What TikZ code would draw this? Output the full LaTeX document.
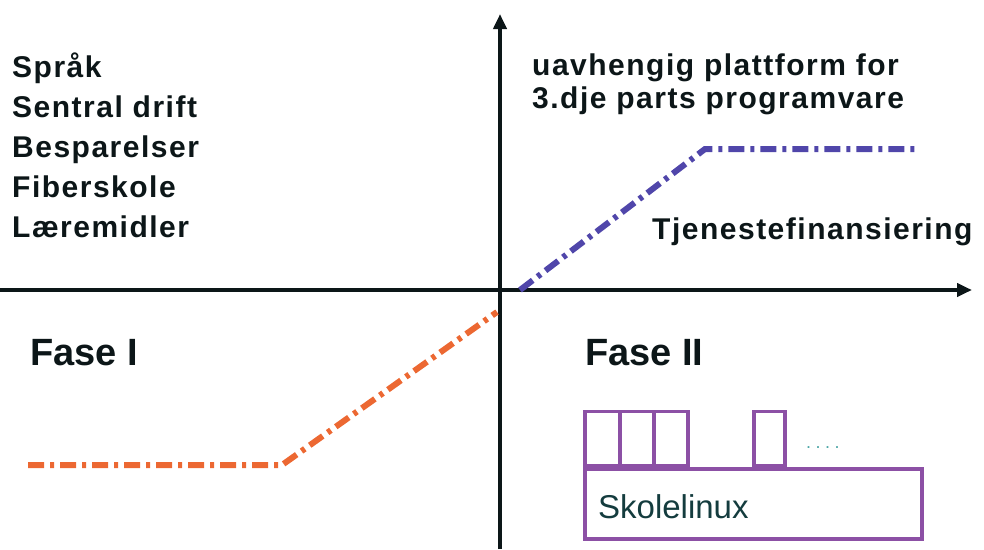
\documentclass[tikz,border=0pt]{standalone}
\usepackage{fontspec}
\setmainfont{Liberation Sans}
\newfontfamily\spaced[LetterSpace=5]{Liberation Sans}
\newfontfamily\dotted[LetterSpace=25]{Liberation Sans}
\usetikzlibrary{arrows.meta}
\definecolor{ink}{RGB}{12,22,24}
\definecolor{phaseone}{RGB}{236,104,50}
\definecolor{phasetwo}{RGB}{80,70,170}
\definecolor{boxline}{RGB}{140,80,165}
\definecolor{boxtext}{RGB}{20,60,62}
\begin{document}
\begin{tikzpicture}[x=1pt,y=-1pt,
  axis/.style={line width=4pt,ink,-{Triangle[length=15pt,width=13pt]}},
  trend/.style={line width=6pt,dash pattern=on 16pt off 6pt on 4pt off 6pt},
  lbl/.style={font=\spaced\fontsize{30}{40}\selectfont\bfseries,text=ink,inner sep=0pt,anchor=base west,align=left},
  phase/.style={font=\fontsize{38}{44}\selectfont\bfseries,text=ink,inner sep=0pt,anchor=base west},
  slot/.style={draw=boxline,line width=3.5pt}]
\useasboundingbox (0,0) rectangle (984,549);
% axes
\coordinate (o) at (500,290);
\coordinate (xs) at (0,290);
\coordinate (xe) at (972,290);
\coordinate (ys) at (500,549);
\coordinate (ye) at (500,14);
\draw[axis] (xs) -- (xe);
\draw[axis] (ys) -- (ye);
% left text list (anchored at the baseline of its last line)
\node[lbl] (list) at (12,237) {Språk\\Sentral drift\\Besparelser\\Fiberskole\\Læremidler};
% right text
\node[lbl,font=\spaced\fontsize{30}{33}\selectfont\bfseries] (plat) at (532,108) {uavhengig plattform for\\3.dje parts programvare};
\node[lbl] (tjen) at (652,239) {Tjenestefinansiering};
% phase labels
\node[phase] (f1) at (30,365) {Fase I};
\node[phase] (f2) at (585,365) {Fase II};
% trend lines
\coordinate (a1) at (28,465);
\coordinate (a2) at (282,465);
\coordinate (a3) at (497,312);
\draw[trend,phaseone] (a1) -- (a2) -- (a3);
\coordinate (b1) at (520,290);
\coordinate (b2) at (705,149);
\coordinate (b3) at (920,149);
\draw[trend,phasetwo] (b1) -- (b2) -- (b3);
% Skolelinux base and modules
\node[slot,minimum width=337pt,minimum height=70pt,anchor=north west,inner sep=0pt] (base) at (583,467) {};
\node[font=\fontsize{33}{36}\selectfont,text=boxtext,anchor=base west,inner sep=0pt] (sk) at (598,518) {Skolelinux};
\node[slot,minimum width=35pt,minimum height=54pt,anchor=south west,inner sep=0pt] (m1) at (583,467) {};
\node[slot,minimum width=34pt,minimum height=54pt,anchor=south west,inner sep=0pt] (m2) at (618,467) {};
\node[slot,minimum width=34pt,minimum height=54pt,anchor=south west,inner sep=0pt] (m3) at (652,467) {};
\node[slot,minimum width=31pt,minimum height=54pt,anchor=south west,inner sep=0pt] (m4) at (752,467) {};
\node[font=\dotted\fontsize{18}{18}\selectfont,text=teal!70,anchor=base west,inner sep=0pt] (dots) at (806,448) {....};
\end{tikzpicture}
\end{document}
